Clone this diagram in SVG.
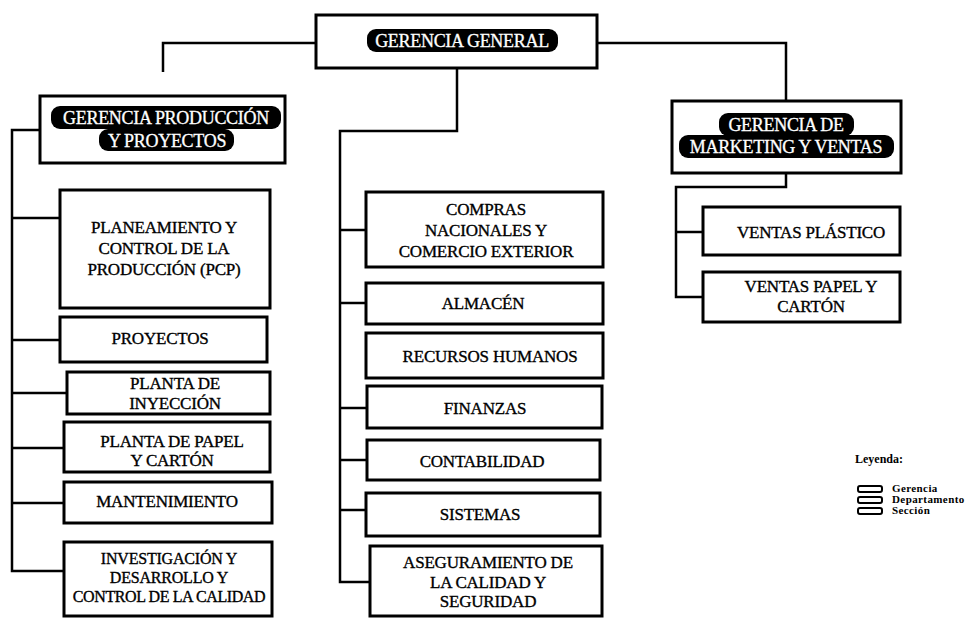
<svg xmlns="http://www.w3.org/2000/svg" width="975" height="620" viewBox="0 0 975 620">
<style>
.box{fill:#fff;stroke:#000;stroke-width:3}
.con{fill:none;stroke:#000;stroke-width:2.5}
.t{font-family:'Liberation Serif','DejaVu Serif',serif;font-size:17px;letter-spacing:-0.2px;fill:#000;stroke:#000;stroke-width:0.35;text-anchor:middle}
.pill{fill:#000}
.h{font-family:'Liberation Serif','DejaVu Serif',serif;font-size:18px;letter-spacing:-0.3px;fill:#fff;stroke:#fff;stroke-width:0.3;text-anchor:middle}
.lg{font-family:'Liberation Serif','DejaVu Serif',serif;font-size:11px;letter-spacing:0.4px;font-weight:bold;fill:#000}
.lr{fill:#fff;stroke:#000;stroke-width:2}
</style>
<rect width="975" height="620" fill="#fff"/>
<g id="connectors">
<polyline class="con" points="163,72 163,43 316,43"/>
<polyline class="con" points="597,43 786,43 786,101"/>
<polyline class="con" points="457,68 457,131 340,131 340,582 370,582"/>
<line class="con" x1="340" y1="230" x2="366" y2="230"/>
<line class="con" x1="340" y1="303" x2="366" y2="303"/>
<line class="con" x1="340" y1="408" x2="367" y2="408"/>
<line class="con" x1="340" y1="460" x2="367" y2="460"/>
<line class="con" x1="340" y1="510" x2="366" y2="510"/>
<polyline class="con" points="40,130 12,130 12,571 64,571"/>
<line class="con" x1="12" y1="218" x2="60" y2="218"/>
<line class="con" x1="12" y1="340" x2="60" y2="340"/>
<line class="con" x1="12" y1="393" x2="67" y2="393"/>
<line class="con" x1="12" y1="448" x2="64" y2="448"/>
<line class="con" x1="12" y1="503" x2="64" y2="503"/>
<polyline class="con" points="786,173 786,187 676,187 676,297 703,297"/>
<line class="con" x1="676" y1="232" x2="703" y2="232"/>
</g>
<g id="gerencia-general">
<rect class="box" x="316" y="15" width="281" height="53"/>
<rect class="pill" x="367" y="29" width="191" height="23" rx="9"/>
<text class="h" x="462" y="47">GERENCIA GENERAL</text>
</g>
<g id="gerencia-produccion">
<rect class="box" x="40" y="96" width="245" height="67"/>
<rect class="pill" x="51" y="106" width="230" height="23" rx="9"/>
<rect class="pill" x="99" y="129" width="135" height="22" rx="9"/>
<text class="h" x="166" y="124">GERENCIA PRODUCCIÓN</text>
<text class="h" x="167" y="147">Y PROYECTOS</text>
</g>
<g id="gerencia-marketing">
<rect class="box" x="672" y="101" width="229" height="72"/>
<rect class="pill" x="719" y="113" width="135" height="23" rx="9"/>
<rect class="pill" x="679" y="135" width="215" height="23" rx="9"/>
<text class="h" x="786" y="131">GERENCIA DE</text>
<text class="h" x="786" y="153">MARKETING Y VENTAS</text>
</g>
<g id="pcp">
<rect class="box" x="60" y="190" width="210" height="118"/>
<text class="t" x="164" y="233">PLANEAMIENTO  Y</text>
<text class="t" x="164" y="254">CONTROL DE LA</text>
<text class="t" x="164" y="275">PRODUCCIÓN (PCP)</text>
</g>
<g id="proyectos">
<rect class="box" x="60" y="317" width="207" height="45"/>
<text class="t" x="160" y="344">PROYECTOS</text>
</g>
<g id="planta-inyeccion">
<rect class="box" x="67" y="372" width="203" height="42"/>
<text class="t" x="175" y="389">PLANTA DE</text>
<text class="t" x="175" y="409">INYECCIÓN</text>
</g>
<g id="planta-papel">
<rect class="box" x="64" y="422" width="206" height="50"/>
<text class="t" x="172" y="447">PLANTA DE PAPEL</text>
<text class="t" x="172" y="466">Y CARTÓN</text>
</g>
<g id="mantenimiento">
<rect class="box" x="64" y="482" width="208" height="41"/>
<text class="t" x="167" y="507">MANTENIMIENTO</text>
</g>
<g id="investigacion">
<rect class="box" x="64" y="542" width="208" height="74"/>
<text class="t" x="169" y="564" style="font-size:16px">INVESTIGACIÓN Y</text>
<text class="t" x="169" y="583" style="font-size:16px">DESARROLLO Y</text>
<text class="t" x="169" y="602" style="font-size:16px;letter-spacing:-0.4px">CONTROL DE LA CALIDAD</text>
</g>
<g id="compras">
<rect class="box" x="366" y="192" width="237" height="75"/>
<text class="t" x="486" y="215">COMPRAS</text>
<text class="t" x="486" y="236">NACIONALES Y</text>
<text class="t" x="486" y="257">COMERCIO EXTERIOR</text>
</g>
<g id="almacen">
<rect class="box" x="366" y="283" width="237" height="41"/>
<text class="t" x="483" y="309">ALMACÉN</text>
</g>
<g id="recursos-humanos">
<rect class="box" x="366" y="333" width="237" height="45"/>
<text class="t" x="490" y="362">RECURSOS HUMANOS</text>
</g>
<g id="finanzas">
<rect class="box" x="367" y="386" width="235" height="42"/>
<text class="t" x="485" y="414">FINANZAS</text>
</g>
<g id="contabilidad">
<rect class="box" x="367" y="440" width="233" height="40"/>
<text class="t" x="482" y="467">CONTABILIDAD</text>
</g>
<g id="sistemas">
<rect class="box" x="366" y="493" width="234" height="43"/>
<text class="t" x="480" y="520">SISTEMAS</text>
</g>
<g id="aseguramiento">
<rect class="box" x="370" y="546" width="232" height="70"/>
<text class="t" x="488" y="568">ASEGURAMIENTO DE</text>
<text class="t" x="488" y="588">LA CALIDAD Y</text>
<text class="t" x="488" y="607">SEGURIDAD</text>
</g>
<g id="ventas-plastico">
<rect class="box" x="703" y="207" width="197" height="48"/>
<text class="t" x="811" y="238">VENTAS PLÁSTICO</text>
</g>
<g id="ventas-papel">
<rect class="box" x="703" y="272" width="197" height="50"/>
<text class="t" x="811" y="292">VENTAS PAPEL Y</text>
<text class="t" x="811" y="312">CARTÓN</text>
</g>
<g id="leyenda">
<text class="lg" x="855" y="463" style="font-size:12px;letter-spacing:0">Leyenda:</text>
<rect class="lr" x="858" y="486" width="24" height="6" rx="2"/>
<rect class="lr" x="858" y="497" width="24" height="6" rx="2"/>
<rect class="lr" x="858" y="508" width="24" height="6" rx="2"/>
<text class="lg" x="892" y="492">Gerencia</text>
<text class="lg" x="892" y="503">Departamento</text>
<text class="lg" x="892" y="514">Sección</text>
</g>
</svg>
